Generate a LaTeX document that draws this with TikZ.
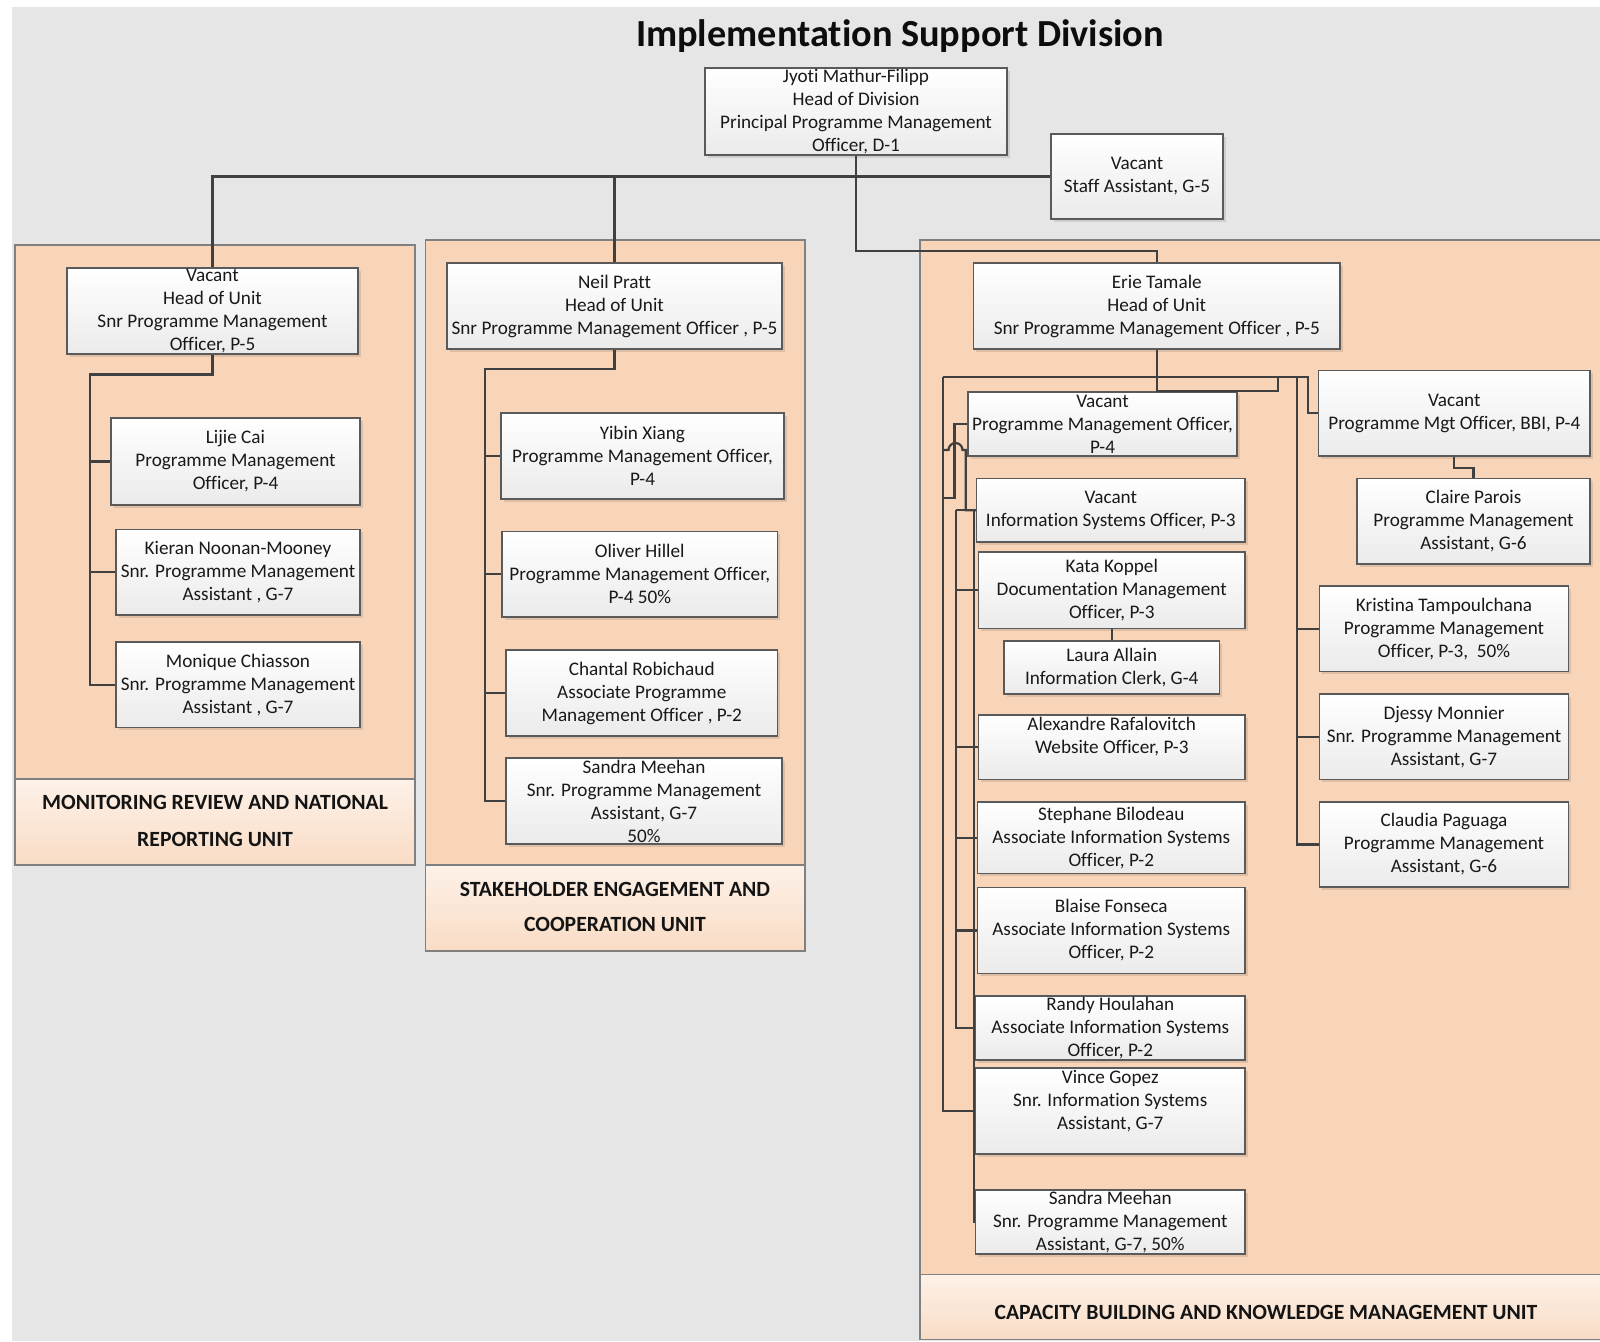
\documentclass[tikz,border=0pt]{standalone}
\usepackage{fontspec}
\setmainfont{Carlito}[Ligatures={NoCommon}]
\usetikzlibrary{shadows}
\definecolor{bggray}{HTML}{E6E6E6}
\definecolor{peach}{HTML}{F8D5B8}
\definecolor{bandtop}{HTML}{FDF1E8}
\definecolor{bandbot}{HTML}{F9DCC5}
\definecolor{linec}{HTML}{404040}
\definecolor{boxline}{HTML}{5A5A5A}
\definecolor{panelline}{HTML}{808080}
\tikzset{
 pbox/.style={draw=boxline, line width=1.2pt, top color=white, bottom color=black!8,
   inner sep=0pt, align=center, font=\fontsize{19.2}{23}\selectfont, text=black!90,
   drop shadow={shadow xshift=2.5pt, shadow yshift=-2.5pt, fill=black, opacity=0.10}},
 conn/.style={draw=linec, line width=2.2pt},
 panel/.style={fill=peach, draw=panelline, line width=1.2pt},
 band/.style={top color=bandtop, bottom color=bandbot, draw=panelline, line width=1.2pt},
 unitlbl/.style={font=\bfseries\fontsize{21.7}{37}\selectfont, align=center, inner sep=0pt, text=black!92},
}
\newcommand\bx[6]{%
 \node[pbox, minimum width={(#4)-(#2)}, minimum height={(#5)-(#3)}] (#1)
   at ({((#2)+(#4))/2},{((#3)+(#5))/2+1}) {#6};}
\begin{document}
\begin{tikzpicture}[x=1pt,y=-1pt]
\useasboundingbox (0,0) rectangle (1600,1341);
\fill[bggray] (12,7) rectangle (1600,1341);
% panels
\draw[panel] (15,245) rectangle (415,779);
\draw[band] (15,779) rectangle (415,865);
\draw[panel] (425.5,240) rectangle (805,865);
\draw[band] (425.5,865) rectangle (805,951);
\draw[panel] (920,240) rectangle (1612,1274.5);
\draw[band] (920,1274.5) rectangle (1612,1339.5);
\node[unitlbl] (u1) at (215,820.5) {MONITORING REVIEW AND NATIONAL\\REPORTING UNIT};
\node[unitlbl, font=\bfseries\fontsize{21.7}{35.5}\selectfont] (u2) at (615,906.75) {STAKEHOLDER ENGAGEMENT AND\\COOPERATION UNIT};
\node[unitlbl] (u3) at (1266,1312) {CAPACITY BUILDING AND KNOWLEDGE MANAGEMENT UNIT};
% title
\node[font=\bfseries\fontsize{38.3}{40}\selectfont, text=black!95] (title) at (900,36) {Implementation Support Division};
% coordinates for connector junctions
\coordinate (lv) at (90,374.5);
\coordinate (mv) at (485,369);
\coordinate (rj) at (1278,391);
\coordinate (rjt) at (1278,377.3);
\coordinate (hl) at (942.7,377.3);
\coordinate (hr) at (1308,377.3);
\coordinate (rv) at (1297,377.3);
\coordinate (pmr) at (942.7,498.3);
\coordinate (hopl) at (942.7,450);
\coordinate (hopa) at (948.5,450);
\coordinate (hopb) at (965.7,450);
\coordinate (v2) at (956,510);
\coordinate (v3) at (974,510);
% boxes
\bx{jy}{705}{67}{1007}{154}{Jyoti Mathur-Filipp\\Head of Division\\Principal Programme Management\\Officer, D-1}
\bx{st}{1051}{133}{1223}{218}{Vacant\\Staff Assistant, G-5}
\bx{lh}{67}{267}{358}{353}{Vacant\\Head of Unit\\Snr Programme Management\\Officer, P-5}
\bx{lj}{111}{417}{360}{504}{Lijie Cai\\Programme Management\\Officer, P-4}
\bx{ki}{116}{528.5}{360}{614}{Kieran Noonan-Mooney\\Snr. Programme Management\\Assistant , G-7}
\bx{mo}{116}{641}{360}{726.5}{Monique Chiasson\\Snr. Programme Management\\Assistant , G-7}
\bx{mh}{447}{262}{782}{348}{Neil Pratt\\Head of Unit\\Snr Programme Management Officer , P-5}
\bx{yb}{501}{412}{784}{498}{Yibin Xiang\\Programme Management Officer,\\P-4}
\bx{ol}{502}{530.5}{777.5}{616}{Oliver Hillel\\Programme Management Officer,\\P-4 50\%}
\bx{ch}{506}{649}{777.5}{735}{Chantal Robichaud\\Associate Programme\\Management Officer , P-2}
\bx{sma}{506}{757}{782}{843}{Sandra Meehan\\Snr. Programme Management\\Assistant, G-7\\50\%}
\bx{er}{973.5}{262}{1340}{348}{Erie Tamale\\Head of Unit\\Snr Programme Management Officer , P-5}
\bx{pm}{968}{391}{1237}{455}{Vacant\\Programme Management Officer,\\P-4}
\bx{is}{976.5}{477.5}{1245}{541}{Vacant\\Information Systems Officer, P-3}
\bx{ka}{978.5}{551}{1245}{627.5}{Kata Koppel\\Documentation Management\\Officer, P-3}
\bx{la}{1004}{640}{1219.5}{693}{Laura Allain\\Information Clerk, G-4}
\bx{al}{978.5}{714}{1245}{778.5}{Alexandre Rafalovitch\\Website Officer, P-3\\~}
\bx{sb}{977.5}{801}{1245}{872.5}{Stephane Bilodeau\\Associate Information Systems\\Officer, P-2}
\bx{bf}{977.5}{886.5}{1245}{972.5}{Blaise Fonseca\\Associate Information Systems\\Officer, P-2}
\bx{rh}{975.5}{995}{1245}{1059}{Randy Houlahan\\Associate Information Systems\\Officer, P-2}
\bx{vg}{975.5}{1067}{1245}{1153}{Vince Gopez\\Snr. Information Systems\\Assistant, G-7\\~}
\bx{smb}{975.5}{1189}{1245}{1253}{Sandra Meehan\\Snr. Programme Management\\Assistant, G-7, 50\%}
\bx{bbi}{1318.5}{369.5}{1590}{455}{Vacant\\Programme Mgt Officer, BBI, P-4}
\bx{cp}{1357}{477.5}{1590}{563}{Claire Parois\\Programme Management\\Assistant, G-6}
\bx{kt}{1319.5}{585}{1568.5}{670.5}{Kristina Tampoulchana\\Programme Management\\Officer, P-3,\ \ 50\%}
\bx{dm}{1319.5}{693}{1568.5}{778.5}{Djessy Monnier\\Snr. Programme Management\\Assistant, G-7}
\bx{cg}{1319.5}{801}{1568.5}{886}{Claudia Paguaga\\Programme Management\\Assistant, G-6}
% connectors: top level
\draw[conn] (lh.north) |- (st.west);
\draw[conn] (mh.north) -- (mh.north |- st.west);
\draw[conn] (jy.south) -- ++(0,95) -| (er.north);
% left unit
\draw[conn] (lh.south) |- (lv) |- (mo.west);
\draw[conn] (lv |- lj.west) -- (lj.west);
\draw[conn] (lv |- ki.west) -- (ki.west);
% middle unit
\draw[conn] (mh.south) |- (mv) |- (sma.west);
\draw[conn] (mv |- yb.west) -- (yb.west);
\draw[conn] (mv |- ol.west) -- (ol.west);
\draw[conn] (mv |- ch.west) -- (ch.west);
% right unit
\draw[conn] (er.south) |- (rj) -- (rjt);
\draw[conn] (hl) -- (hr) |- (bbi.west);
\draw[conn] (rv) |- (cg.west);
\draw[conn] (rv |- kt.west) -- (kt.west);
\draw[conn] (rv |- dm.west) -- (dm.west);
\draw[conn] (bbi.south) -- ++(0,11) -| (cp.north);
\draw[conn] (hl) |- (vg.west);
\draw[conn] (pm.west) -- ++(-13,0) |- (pmr);
\draw[conn] (hopl) -- (hopa) arc[start angle=180, end angle=0, radius=7pt] -- (hopb) |- (is.west);
\draw[conn] (v2) -- (v3);
\draw[conn] (v2) |- (rh.west);
\draw[conn] (v2 |- ka.west) -- (ka.west);
\draw[conn] (v2 |- al.west) -- (al.west);
\draw[conn] (v2 |- sb.west) -- (sb.west);
\draw[conn] (v2 |- bf.west) -- (bf.west);
\draw[conn] (v3) |- (smb.west);
\draw[conn] (ka.south) -- (la.north);
\end{tikzpicture}
\end{document}
